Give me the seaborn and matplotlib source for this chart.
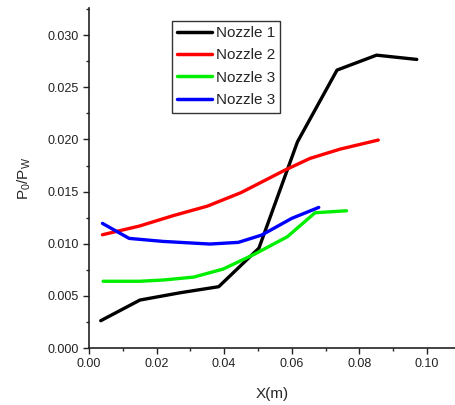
import matplotlib
matplotlib.use("Agg")
import matplotlib.pyplot as plt
import seaborn as sns
import pandas as pd
from matplotlib.ticker import MultipleLocator

sns.set_style("ticks")
plt.rcParams['font.family'] = ['Liberation Sans', 'DejaVu Sans']
plt.rcParams['mathtext.fontset'] = 'custom'
plt.rcParams['mathtext.rm'] = 'Liberation Sans'
plt.rcParams['mathtext.it'] = 'Liberation Sans'

labels = ["Nozzle 1", "Nozzle 2", "Nozzle 3", "Nozzle 3"]
colors = ["#000000", "#ff0000", "#00ee00", "#0000ff"]

x1 = [0.0035, 0.0151, 0.027, 0.0384, 0.0503, 0.0617, 0.0734, 0.0851, 0.0970]
y1 = [0.00262, 0.0046, 0.0053, 0.00588, 0.00958, 0.01977, 0.02665, 0.02808, 0.02767]

x2 = [0.0040, 0.015, 0.025, 0.035, 0.045, 0.058, 0.0654, 0.0743, 0.0856]
y2 = [0.01086, 0.0117, 0.0127, 0.0136, 0.0149, 0.01706, 0.01818, 0.01907, 0.01994]

x3 = [0.0042, 0.015, 0.022, 0.031, 0.0397, 0.049, 0.0587, 0.0669, 0.0762]
y3 = [0.0064, 0.0064, 0.00652, 0.0068, 0.00757, 0.0090, 0.01067, 0.01297, 0.01316]

x4 = [0.0040, 0.0119, 0.022, 0.0358, 0.0442, 0.0511, 0.0600, 0.0680]
y4 = [0.01195, 0.01051, 0.01022, 0.00997, 0.01013, 0.01083, 0.01243, 0.01348]

series = [(x1, y1), (x2, y2), (x3, y3), (x4, y4)]

fig = plt.figure(figsize=(4.56, 4.05), dpi=100)
ax = fig.add_axes([0.195, 0.1407, 0.805, 0.8395])

for (xs, ys), lab, col in zip(series, labels, colors):
    df = pd.DataFrame({"x": xs, "y": ys})
    sns.lineplot(data=df, x="x", y="y", ax=ax, color=col, linewidth=2.4,
                 label=lab, sort=False, estimator=None)

ax.set_xlim(0, 0.1086)
ax.set_ylim(0, 0.0326)
ax.xaxis.set_minor_locator(MultipleLocator(0.01))
ax.yaxis.set_minor_locator(MultipleLocator(0.0025))
ax.set_xticks([0, 0.02, 0.04, 0.06, 0.08, 0.10])
ax.set_xticklabels(["0.00", "0.02", "0.04", "0.06", "0.08", "0.10"])
ax.set_yticks([0, 0.005, 0.01, 0.015, 0.02, 0.025, 0.03])
ax.set_yticklabels(["0.000", "0.005", "0.010", "0.015", "0.020", "0.025", "0.030"])
ax.tick_params(axis='both', which='major', direction='out', length=4, width=1,
               labelsize=9, colors='#222222')
ax.tick_params(axis='both', which='minor', direction='out', length=2.5, width=1)
for s in ["top", "right"]:
    ax.spines[s].set_visible(False)
for s in ["left", "bottom"]:
    ax.spines[s].set_color("#222222")
    ax.spines[s].set_linewidth(1.2)

ax.set_xlabel("X(m)", fontsize=11, labelpad=12)
ax.set_ylabel("P$_0$/P$_W$", fontsize=11, labelpad=10)

leg = ax.legend(loc="upper left", bbox_to_anchor=(0.225, 0.963), borderaxespad=0,
                fontsize=11, frameon=True, fancybox=False, handlelength=2.3,
                handletextpad=0.25, borderpad=0.35, labelspacing=0.55)
leg.get_frame().set_edgecolor("black")
leg.get_frame().set_linewidth(1.0)
for line in leg.get_lines():
    line.set_linewidth(2.5)

fig.savefig("out.png", dpi=100)
